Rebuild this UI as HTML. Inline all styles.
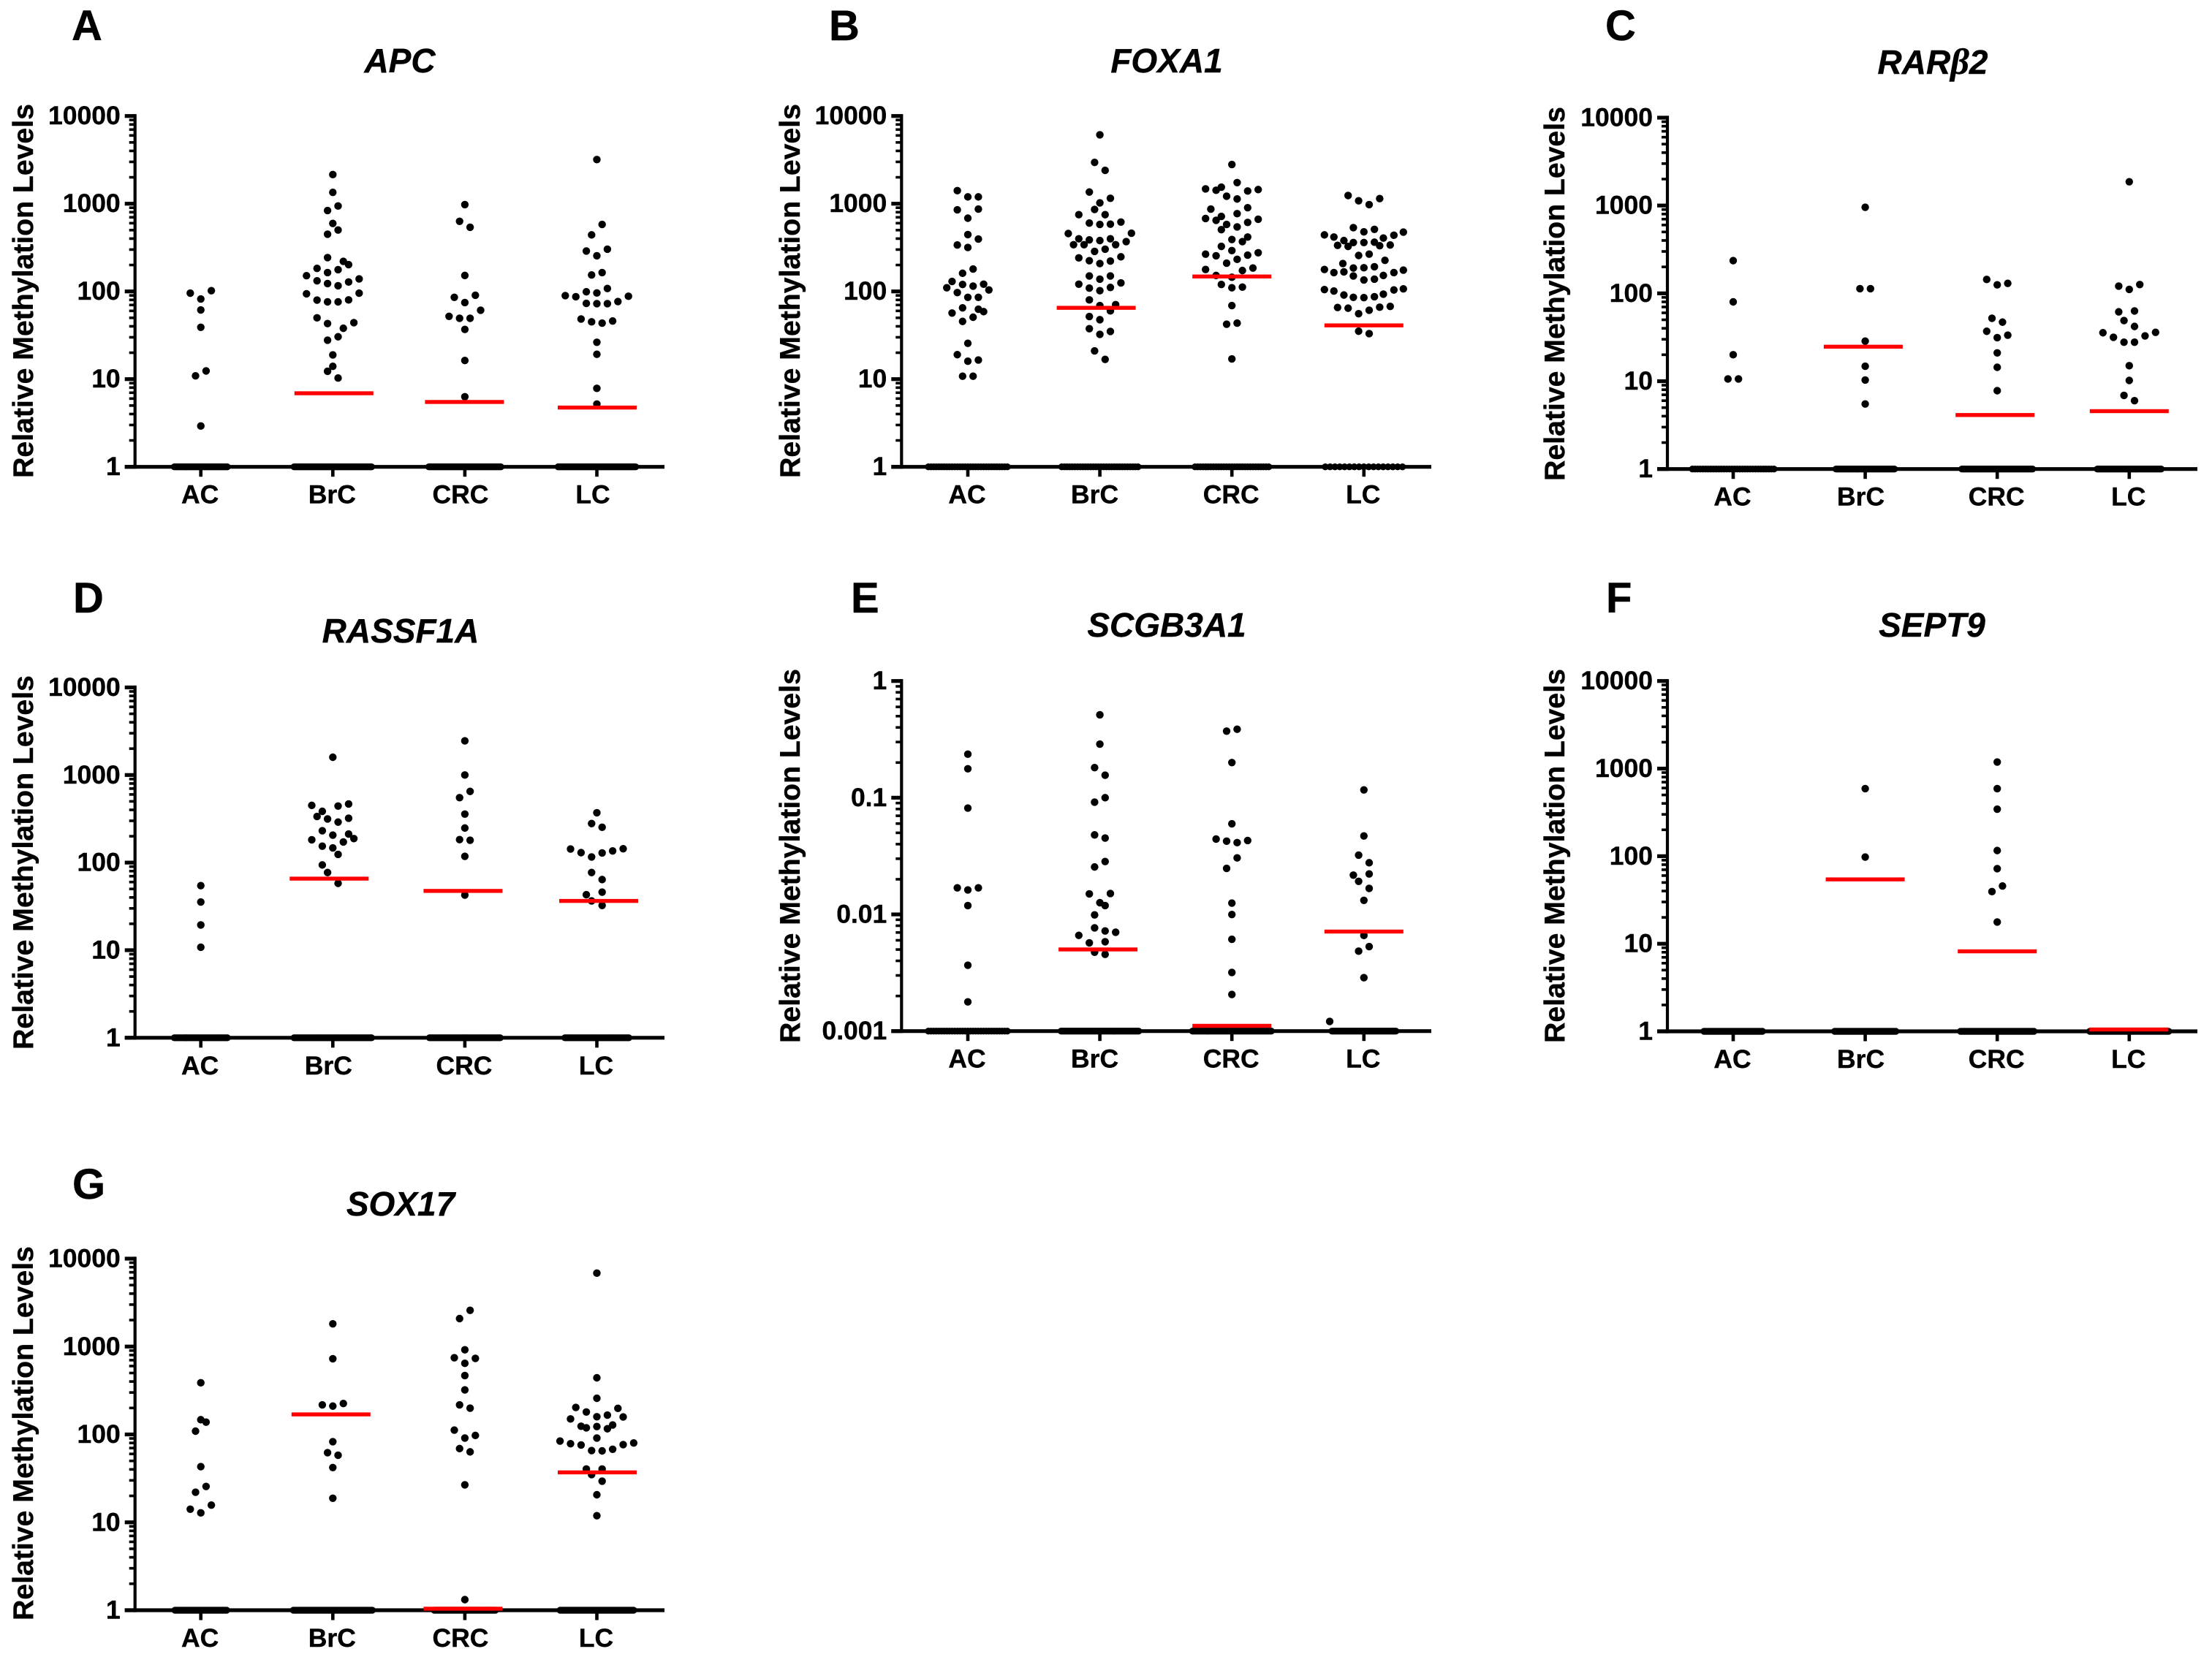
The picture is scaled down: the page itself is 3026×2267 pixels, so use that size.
<!DOCTYPE html>
<html lang="en">
<head>
<meta charset="utf-8">
<title>Relative methylation levels by gene and cancer type</title>
<style>
html,body{margin:0;padding:0;background:#fff;}
svg{display:block;}
text{font-family:"Liberation Sans",sans-serif;font-weight:bold;fill:#000;stroke:#000;stroke-width:0.4px;}
.letter{font-size:58px;}
.title{font-size:46px;font-style:italic;text-anchor:middle;}
.ytitle{font-size:39.2px;text-anchor:middle;}
.tick{font-size:35.5px;}
</style>
</head>
<body>
<svg id="figure" xmlns="http://www.w3.org/2000/svg" width="3026" height="2267" viewBox="0 0 3026 2267">
<rect width="3026" height="2267" fill="#fff"/>
<g id="panel-apc">
<text class="letter" x="98" y="55">A</text>
<text class="title" x="547" y="99">APC</text>
<text class="ytitle" transform="translate(45 398) rotate(-90)">Relative Methylation Levels</text>
</g>
<g id="panel-foxa1">
<text class="letter" x="1134" y="55">B</text>
<text class="title" x="1596" y="99">FOXA1</text>
<text class="ytitle" transform="translate(1094 398) rotate(-90)">Relative Methylation Levels</text>
</g>
<g id="panel-rarb2">
<text class="letter" x="2196" y="55">C</text>
<text class="title" x="2644" y="101">RAR<tspan font-family="Liberation Serif" font-size="50">β</tspan>2</text>
<text class="ytitle" transform="translate(2140 402) rotate(-90)">Relative Methylation Levels</text>
</g>
<g id="panel-rassf1a">
<text class="letter" x="100" y="838">D</text>
<text class="title" x="548" y="879">RASSF1A</text>
<text class="ytitle" transform="translate(45 1180) rotate(-90)">Relative Methylation Levels</text>
</g>
<g id="panel-scgb3a1">
<text class="letter" x="1164" y="838">E</text>
<text class="title" x="1596" y="871">SCGB3A1</text>
<text class="ytitle" transform="translate(1094 1171) rotate(-90)">Relative Methylation Levels</text>
</g>
<g id="panel-sept9">
<text class="letter" x="2197" y="838">F</text>
<text class="title" x="2643" y="871">SEPT9</text>
<text class="ytitle" transform="translate(2140 1171) rotate(-90)">Relative Methylation Levels</text>
</g>
<g id="panel-sox17">
<text class="letter" x="99" y="1640">G</text>
<text class="title" x="548" y="1663">SOX17</text>
<text class="ytitle" transform="translate(45 1961) rotate(-90)">Relative Methylation Levels</text>
</g>
</svg>
<script>
const categories = ['AC','BrC','CRC','LC'];
const logTicks = [1,10,100,1000,10000];
const fractionTicks = [0.001,0.01,0.1,1];

/* A: APC */
const apcAC = [102,95.5,82,61.5,39,12.4,10.9,2.92];
const apcACSwarm = [2,-2,0,0,0,1,-1,0];
const apcBrC = [2148,1346,942,836,596,501,449,243,220,202,183,177,164,151,139,132,128,123,116,95.5,94,79.6,80,76,76,50,43,44,38,30.4,27.8,18.9,14,12.3,10.3];
const apcBrCSwarm = [0,0,1,-1,0,1,-1,-1,2,3,-3,1,-1,-5,5,-3,3,-1,1,5,-5,-3,3,-1,1,-3,-1,4,2,1,-1,0,0,-1,1];
const apcCRC = [977,630,539,152,90.4,85.6,74.6,61,52,49.4,49.4,36.9,16.3,6.3];
const apcCRCSwarm = [0,-1,1,0,2,-2,0,3,-3,-1,1,0,0,0];
const apcLC = [3184,580,441,303,289,255,164,154,108,99,96,89.6,88,87,76.7,73,72.6,72.6,48.5,45,46,43.5,26.3,19.2,7.85,5.2];
const apcLCSwarm = [0,1,-1,2,-2,0,1,-1,2,-2,0,-6,6,-4,4,-2,0,2,-3,-1,3,1,0,0,0,0];
const apcMedians = [null,6.9,5.49,4.74];
const apcBaselineCounts = [40,58,54,58];

/* B: FOXA1 */
const foxa1AC = [1409,1196,1196,852,868,684,445,395,338,317,180,161,130,120,121,115,110,104,97,85.6,85.6,65,62.7,58.8,56.7,50.8,45.5,25.6,19,16.5,16,10.8,10.8];
const foxa1ACSwarm = [-2,0,2,-2,2,0,0,2,-2,0,1,-1,-3,-1,3,1,-4,4,-2,0,2,-1,2,3,-3,1,-1,0,-2,2,0,-1,1];
const foxa1BrC = [6100,2960,2399,1358,1153,1023,860,750,750,618,601,580,585,461,457,398,398,387,380,370,341,341,341,303,286,248,241,224,222,208,150,150,138,125,121,111,109,102,80,70.6,69,60,51.7,47.6,37.6,35,32.4,21,16.8];
const foxa1BrCSwarm = [0,-1,1,-2,2,0,-1,-4,1,4,-2,0,2,6,-6,-4,2,-2,0,5,-5,-3,3,1,-1,4,-4,-2,2,0,-2,2,0,4,-4,2,-2,0,-2,3,0,2,-2,0,-2,2,0,-1,1];
const foxa1CRC = [2800,1741,1545,1476,1422,1449,1396,1217,1132,900,868,770,716,678,665,647,612,580,544,506,417,391,370,326,292,276,266,259,255,232,210,185,178,173,152,145,120,112,110,69,43.5,42.3,17];
const foxa1CRCSwarm = [0,1,-2,-5,-3,5,3,-1,1,3,-4,1,-2,-5,5,-3,3,-1,1,-2,3,0,2,-2,0,5,-5,3,-3,1,-1,4,-5,2,-3,0,-2,2,0,0,1,-1,0];
const foxa1LC = [1240,1143,1081,977,534,510,478,474,441,437,417,406,380,361,361,364,335,326,332,338,266,257,226,208,191,185,186,178,175,164,167,164,152,150,138,135,105,101,107,104,91,93,85.6,87,85,65.6,64.4,66,67.5,61,55.7,35.2,33];
const foxa1LCSwarm = [-3,3,-1,1,-2,2,0,7.5,-7.5,5.7,-5.7,3.7,-3.8,-2,0,2,-5,-3,3,5,1,-1,4,-4,2,-2,0,-7.5,7.5,-5.7,-3.8,5.7,3.7,-2,2,0,-7.5,-5.7,7.5,5.7,-3.8,3.7,-2,2,0,-5,-3,3,5,1,-1,-1,1];
const foxa1Medians = [null,65,148,41];
const foxa1BaselineCounts = [31,30,29,17];

/* C: RARbeta2 */
const rarb2AC = [236,80,20,10.6,10.6];
const rarb2ACSwarm = [0,0,0,-1,1];
const rarb2BrC = [955,113,113,28.6,14.8,10.3,5.5];
const rarb2BrCSwarm = [0,-1,1,0,0,0,0];
const rarb2CRC = [144,130,125,52,47,37,33.4,31.3,21,14.4,7.8];
const rarb2CRCSwarm = [-2,2,0,-1,1,-2,2,0,0,0,0];
const rarb2LC = [1862,126,121,111,63,61.6,49,42,35.6,36,32.8,31.6,27.8,27.8,15,10.2,6.9,6];
const rarb2LCSwarm = [0,2,-2,0,1,-2,-1,1,-5,5,3,-3,-1,1,0,0,-1,1];
const rarb2Medians = [null,24.7,4.12,4.56];
const rarb2BaselineCounts = [32,44,53,48];

/* D: RASSF1A */
const rassf1aAC = [54.6,35.5,19.4,10.8];
const rassf1aACSwarm = [0,0,0,0];
const rassf1aBrC = [1596,467,450,442,385,336,315,321,290,231,212,206,188,182,172,154,147,124,94,77,58];
const rassf1aBrCSwarm = [0,3,-4,1,-2,-3,-1,3,1,-2,3,0,4,-4,2,-2,0,1,-2,-1,1];
const rassf1aCRC = [2457,1000,650,551,358,248,180,183,118,42.6];
const rassf1aCRCSwarm = [0,0,1,-1,0,0,1,-1,0,0];
const rassf1aLC = [371,279,253,144,143,136,130,129,116,77,64,46,43,36.5,32.4];
const rassf1aLCSwarm = [0,-1,1,5,-5,3,-3,1,-1,-1,1,1,-2,-1,1];
const rassf1aMedians = [null,65.6,47.5,36.5];
const rassf1aBaselineCounts = [40,58,53,48];

/* E: SCGB3A1 */
const scgb3a1AC = [0.236,0.177,0.0815,0.0169,0.0169,0.0162,0.0119,0.00367,0.00178];
const scgb3a1ACSwarm = [0,0,0,-2,2,0,0,0,0];
const scgb3a1BrC = [0.513,0.288,0.181,0.156,0.1,0.0916,0.048,0.0451,0.0284,0.0255,0.015,0.0151,0.0126,0.0119,0.0099,0.00767,0.00721,0.00703,0.00661,0.00571,0.00583,0.00474,0.00455];
const scgb3a1BrCSwarm = [0,0,-1,1,1,-1,-1,1,1,-1,-2,2,0,1,-1,-1,1,3,-4,-2,1,-1,1];
const scgb3a1CRC = [0.386,0.372,0.2,0.0598,0.0442,0.0424,0.0412,0.043,0.0305,0.0248,0.0125,0.00998,0.00612,0.00318,0.00206];
const scgb3a1CRCSwarm = [1,-1,0,0,-3,-1,1,3,1,-1,0,0,0,0,0];
const scgb3a1LC = [0.1167,0.047,0.0322,0.0277,0.0217,0.0222,0.0192,0.0167,0.0132,0.0066,0.0053,0.00484,0.00287,0.00121];
const scgb3a1LCSwarm = [0,0,-1,1,-2,1,-1,1,0,0,1,-1,0,-6.5];
const scgb3a1Medians = [null,0.00501,0.00111,0.00713];
const scgb3a1BaselineCounts = [31,58,59,48];

/* F: SEPT9 */
const sept9AC = [];
const sept9ACSwarm = [];
const sept9BrC = [591,97.7];
const sept9BrCSwarm = [0,0];
const sept9CRC = [1188,591,344,116,72,45.6,39.4,17.7];
const sept9CRCSwarm = [0,0,0,0,0,1,-1,0];
const sept9LC = [];
const sept9LCSwarm = [];
const sept9Medians = [null,54.3,8.19,1.05];
const sept9BaselineCounts = [44,46,55,59];

/* G: SOX17 */
const sox17AC = [387,147,138,109,43,25.6,22,15.7,14.1,12.8];
const sox17ACSwarm = [0,0,1,-1,0,1,-1,2,-2,0];
const sox17BrC = [1812,727,225,217,210,82.7,62,58,42,18.8];
const sox17BrCSwarm = [0,0,2,-2,0,0,-1,1,0,0];
const sox17CRC = [2583,2080,918,746,733,644,468,321,217,199,112,97.4,91,69,63.3,26.7,1.32];
const sox17CRCSwarm = [1,-1,0,-2,2,0,0,0,-1,1,-2,2,0,-1,1,0,0];
const sox17LC = [6840,441,258,203,198,180,166,159,158,150,128,124,123,119,116,91,84,80,78.5,76.6,75.9,67.8,65.5,65,40.4,40.4,34.9,29.4,20.6,11.9];
const sox17LCSwarm = [0,0,0,-4,4,-2,2,0,5,-5,3,-3,0,-2,2,0,-7,7,-5,5,-3,3,-1,1,-2,1,-1,1,0,0];
const sox17Medians = [null,169,1.04,37];
const sox17BaselineCounts = [39,59,46,55];

const SVGNS = 'http://www.w3.org/2000/svg';
const SWARM_STEP = 7.2;
const DOT_R = 5.2;
const BASELINE_R = 4.7;
const MEDIAN_W = 108;

function node(tag, parent, props) {
  const el = document.createElementNS(SVGNS, tag);
  for (const k in props) el.setAttribute(k, props[k]);
  parent.appendChild(el);
  return el;
}
function baselineGap(n) {
  return n <= 20 ? 6.6 : (n <= 35 ? 3.6 : 1.86);
}
function drawPanel(p) {
  const root = document.getElementById(p.id);
  const lo = Math.log10(p.ticks[0]);
  const hi = Math.log10(p.ticks[p.ticks.length - 1]);
  const yScale = v => p.bottom - (Math.log10(v) - lo) / (hi - lo) * (p.bottom - p.top);
  const xScale = i => p.axisX + p.firstOffset + i * p.spacing;

  const yAxis = node('g', root, {});
  
  
  const spine = node('line', yAxis, {x1:p.axisX, x2:p.axisX, y1:p.top - 2.6, y2:p.bottom + 2.6, stroke:'#000', 'stroke-width':4.2});
  
  

  p.ticks.forEach((t, idx) => {
    const y = yScale(t);
    const major = node('line', yAxis, {x1:p.axisX - 14, x2:p.axisX, y1:y, y2:y, stroke:'#000', 'stroke-width':5.2});
    
    
    const label = node('text', yAxis, {class:'tick', x:p.axisX - 20, y:y + 11.5, 'text-anchor':'end'});
    label.textContent = String(t);
    
    
    if (idx < p.ticks.length - 1) {
      for (let m = 2; m <= 9; m++) {
        const my = yScale(t * m);
        const minor = node('line', yAxis, {x1:p.axisX - 8, x2:p.axisX, y1:my, y2:my, stroke:'#000', 'stroke-width':3.6});
        
        
      }
    }
  });

  const xAxis = node('g', root, {});
  
  
  const baseline = node('line', xAxis, {x1:p.axisX - 14, x2:p.right, y1:p.bottom, y2:p.bottom, stroke:'#000', 'stroke-width':5.2});
  
  

  categories.forEach((cat, i) => {
    const cx = xScale(i);
    const tick = node('line', xAxis, {x1:cx, x2:cx, y1:p.bottom, y2:p.bottom + 13.5, stroke:'#000', 'stroke-width':4.6});
    
    
    const label = node('text', xAxis, {class:'tick', x:cx + p.labelShift[i], y:p.bottom + 50, 'text-anchor':'middle'});
    label.textContent = cat;
    
    

    const series = node('g', root, {});
    
    

    const n = p.baselineCounts[i];
    const gap = baselineGap(n);
    for (let k = 0; k < n; k++) {
      const dot = node('circle', series, {cx:cx + (k - (n - 1) / 2) * gap, cy:yScale(p.ticks[0]), r:BASELINE_R, fill:'#000'});
      
      
    }
    const vals = p.values[i];
    const swarm = p.swarm[i];
    vals.forEach((v, k) => {
      const dot = node('circle', series, {cx:cx + swarm[k] * SWARM_STEP, cy:yScale(v), r:DOT_R, fill:'#000'});
      
      
    });
  });

  categories.forEach((cat, i) => {
    const m = p.medians[i];
    if (m === null) return;
    const mx = xScale(i) + p.medianShift[i];
    const my = yScale(m);
    const bar = node('rect', root, {x:mx - MEDIAN_W / 2, y:my - 2.7, width:MEDIAN_W, height:5.4, fill:'#ff0000'});
    
    
  });
}

drawPanel({id:'panel-apc', key:'apc', ticks:logTicks, axisX:184.7, top:158.7, bottom:638.7, right:909, firstOffset:90, spacing:180.6,
  labelShift:[-1,-1,-6,-5.5], medianShift:[0,1.5,-0.5,0.5], medians:apcMedians, baselineCounts:apcBaselineCounts,
  values:[apcAC,apcBrC,apcCRC,apcLC], swarm:[apcACSwarm,apcBrCSwarm,apcCRCSwarm,apcLCSwarm]});
drawPanel({id:'panel-foxa1', key:'foxa1', ticks:logTicks, axisX:1233.3, top:158.7, bottom:638.7, right:1958, firstOffset:90.7, spacing:180.6,
  labelShift:[-1,-7,-1,-1], medianShift:[0,-5,0,0], medians:foxa1Medians, baselineCounts:foxa1BaselineCounts,
  values:[foxa1AC,foxa1BrC,foxa1CRC,foxa1LC], swarm:[foxa1ACSwarm,foxa1BrCSwarm,foxa1CRCSwarm,foxa1LCSwarm]});
drawPanel({id:'panel-rarb2', key:'rarb2', ticks:logTicks, axisX:2281, top:161, bottom:641.7, right:3006, firstOffset:90, spacing:180.6,
  labelShift:[-1,-6,-1,-1], medianShift:[0,-2.7,-3,0], medians:rarb2Medians, baselineCounts:rarb2BaselineCounts,
  values:[rarb2AC,rarb2BrC,rarb2CRC,rarb2LC], swarm:[rarb2ACSwarm,rarb2BrCSwarm,rarb2CRCSwarm,rarb2LCSwarm]});
drawPanel({id:'panel-rassf1a', key:'rassf1a', ticks:logTicks, axisX:184.7, top:940.5, bottom:1419.8, right:909, firstOffset:90, spacing:180.6,
  labelShift:[-1,-6,-1,-1], medianShift:[0,-5,-2.5,2.5], medians:rassf1aMedians, baselineCounts:rassf1aBaselineCounts,
  values:[rassf1aAC,rassf1aBrC,rassf1aCRC,rassf1aLC], swarm:[rassf1aACSwarm,rassf1aBrCSwarm,rassf1aCRCSwarm,rassf1aLCSwarm]});
drawPanel({id:'panel-scgb3a1', key:'scgb3a1', ticks:fractionTicks, axisX:1233.3, top:931.7, bottom:1410.7, right:1958, firstOffset:90.7, spacing:180.6,
  labelShift:[-1,-7,-1,-1], medianShift:[0,-2.5,0,0], medians:scgb3a1Medians, baselineCounts:scgb3a1BaselineCounts,
  values:[scgb3a1AC,scgb3a1BrC,scgb3a1CRC,scgb3a1LC], swarm:[scgb3a1ACSwarm,scgb3a1BrCSwarm,scgb3a1CRCSwarm,scgb3a1LCSwarm]});
drawPanel({id:'panel-sept9', key:'sept9', ticks:logTicks, axisX:2281, top:931.7, bottom:1411, right:3006, firstOffset:90, spacing:180.6,
  labelShift:[-1,-6,-1,-1], medianShift:[0,0,0,-0.5], medians:sept9Medians, baselineCounts:sept9BaselineCounts,
  values:[sept9AC,sept9BrC,sept9CRC,sept9LC], swarm:[sept9ACSwarm,sept9BrCSwarm,sept9CRCSwarm,sept9LCSwarm]});
drawPanel({id:'panel-sox17', key:'sox17', ticks:logTicks, axisX:184.7, top:1722, bottom:2203, right:909, firstOffset:90, spacing:180.6,
  labelShift:[-1,-1,-6,-1], medianShift:[0,-2.5,-2.5,0.5], medians:sox17Medians, baselineCounts:sox17BaselineCounts,
  values:[sox17AC,sox17BrC,sox17CRC,sox17LC], swarm:[sox17ACSwarm,sox17BrCSwarm,sox17CRCSwarm,sox17LCSwarm]});
</script>
</body>
</html>
